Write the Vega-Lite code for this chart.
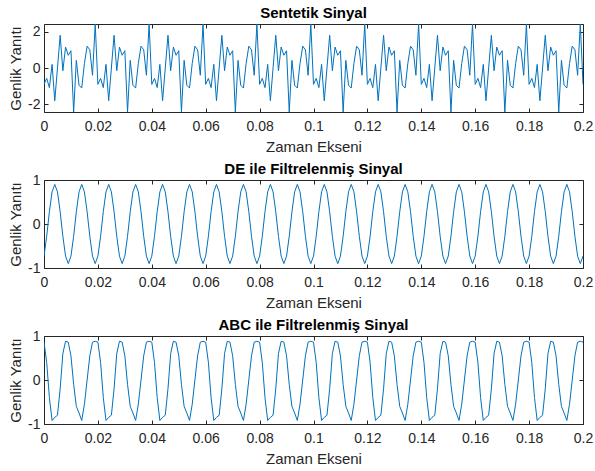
{
  "$schema": "https://vega.github.io/schema/vega-lite/v6.json",
  "background": "white",
  "padding": {"left": 8, "top": 5, "right": 10, "bottom": 6},
  "config": {
    "font": "Liberation Sans",
    "view": {"stroke": "#262626", "strokeWidth": 1},
    "axis": {"domain": false, "grid": false, "ticks": true, "tickSize": -4, "tickColor": "#262626", "tickWidth": 1,
             "labelColor": "#262626", "labelFontSize": 14, "labelFont": "Liberation Sans",
             "titleFont": "Liberation Sans", "titleFontSize": 15, "titleFontWeight": "normal", "titleColor": "#262626"},
    "axisX": {"labelPadding": 11, "titlePadding": 6, "labelFlush": false},
    "axisY": {"labelPadding": 8, "titlePadding": 4},
    "axisTop": {"labelPadding": 0, "minExtent": 0, "maxExtent": 0},
    "axisRight": {"labelPadding": 0, "minExtent": 0, "maxExtent": 0},
    "title": {"fontSize": 15, "fontWeight": "bold", "color": "#000000", "offset": 3, "font": "Liberation Sans"}
  },
  "data": {"values": [
    {"t":0,"sig":-0.9,"de":-0.73,"abc":0.86},{"t":0.001,"sig":-0.57,"de":-0.28,"abc":0.4},{"t":0.002,"sig":-1.08,"de":0.28,"abc":-0.4},{"t":0.003,"sig":0.2,"de":0.73,"abc":-0.92},{"t":0.004,"sig":-1.8,"de":0.9,"abc":-0.85},
    {"t":0.005,"sig":0,"de":0.73,"abc":-0.8},{"t":0.006,"sig":1.8,"de":0.28,"abc":-0.2},{"t":0.007,"sig":-0.15,"de":-0.28,"abc":0.6},{"t":0.008,"sig":1.15,"de":-0.73,"abc":0.88},{"t":0.009,"sig":0.7,"de":-0.9,"abc":0.86},
    {"t":0.01,"sig":0.95,"de":-0.73,"abc":0.55},{"t":0.011,"sig":-2.42,"de":-0.28,"abc":-0.1},{"t":0.012,"sig":0.42,"de":0.28,"abc":-0.6},{"t":0.013,"sig":-0.95,"de":0.73,"abc":-0.75},{"t":0.014,"sig":-1.1,"de":0.9,"abc":-0.92},
    {"t":0.015,"sig":0.25,"de":0.73,"abc":-0.55},{"t":0.016,"sig":1.2,"de":0.28,"abc":0},{"t":0.017,"sig":1.0,"de":-0.28,"abc":0.55},{"t":0.018,"sig":-0.4,"de":-0.73,"abc":0.86},{"t":0.019,"sig":2.42,"de":-0.9,"abc":0.88},
    {"t":0.02,"sig":-0.9,"de":-0.73,"abc":0.86},{"t":0.021,"sig":-0.57,"de":-0.28,"abc":0.4},{"t":0.022,"sig":-1.08,"de":0.28,"abc":-0.4},{"t":0.023,"sig":0.2,"de":0.73,"abc":-0.92},{"t":0.024,"sig":-1.8,"de":0.9,"abc":-0.85},
    {"t":0.025,"sig":0,"de":0.73,"abc":-0.8},{"t":0.026,"sig":1.8,"de":0.28,"abc":-0.2},{"t":0.027,"sig":-0.15,"de":-0.28,"abc":0.6},{"t":0.028,"sig":1.15,"de":-0.73,"abc":0.88},{"t":0.029,"sig":0.7,"de":-0.9,"abc":0.86},
    {"t":0.03,"sig":0.95,"de":-0.73,"abc":0.55},{"t":0.031,"sig":-2.42,"de":-0.28,"abc":-0.1},{"t":0.032,"sig":0.42,"de":0.28,"abc":-0.6},{"t":0.033,"sig":-0.95,"de":0.73,"abc":-0.75},{"t":0.034,"sig":-1.1,"de":0.9,"abc":-0.92},
    {"t":0.035,"sig":0.25,"de":0.73,"abc":-0.55},{"t":0.036,"sig":1.2,"de":0.28,"abc":0},{"t":0.037,"sig":1.0,"de":-0.28,"abc":0.55},{"t":0.038,"sig":-0.4,"de":-0.73,"abc":0.86},{"t":0.039,"sig":2.42,"de":-0.9,"abc":0.88},
    {"t":0.04,"sig":-0.9,"de":-0.73,"abc":0.86},{"t":0.041,"sig":-0.57,"de":-0.28,"abc":0.4},{"t":0.042,"sig":-1.08,"de":0.28,"abc":-0.4},{"t":0.043,"sig":0.2,"de":0.73,"abc":-0.92},{"t":0.044,"sig":-1.8,"de":0.9,"abc":-0.85},
    {"t":0.045,"sig":0,"de":0.73,"abc":-0.8},{"t":0.046,"sig":1.8,"de":0.28,"abc":-0.2},{"t":0.047,"sig":-0.15,"de":-0.28,"abc":0.6},{"t":0.048,"sig":1.15,"de":-0.73,"abc":0.88},{"t":0.049,"sig":0.7,"de":-0.9,"abc":0.86},
    {"t":0.05,"sig":0.95,"de":-0.73,"abc":0.55},{"t":0.051,"sig":-2.42,"de":-0.28,"abc":-0.1},{"t":0.052,"sig":0.42,"de":0.28,"abc":-0.6},{"t":0.053,"sig":-0.95,"de":0.73,"abc":-0.75},{"t":0.054,"sig":-1.1,"de":0.9,"abc":-0.92},
    {"t":0.055,"sig":0.25,"de":0.73,"abc":-0.55},{"t":0.056,"sig":1.2,"de":0.28,"abc":0},{"t":0.057,"sig":1.0,"de":-0.28,"abc":0.55},{"t":0.058,"sig":-0.4,"de":-0.73,"abc":0.86},{"t":0.059,"sig":2.42,"de":-0.9,"abc":0.88},
    {"t":0.06,"sig":-0.9,"de":-0.73,"abc":0.86},{"t":0.061,"sig":-0.57,"de":-0.28,"abc":0.4},{"t":0.062,"sig":-1.08,"de":0.28,"abc":-0.4},{"t":0.063,"sig":0.2,"de":0.73,"abc":-0.92},{"t":0.064,"sig":-1.8,"de":0.9,"abc":-0.85},
    {"t":0.065,"sig":0,"de":0.73,"abc":-0.8},{"t":0.066,"sig":1.8,"de":0.28,"abc":-0.2},{"t":0.067,"sig":-0.15,"de":-0.28,"abc":0.6},{"t":0.068,"sig":1.15,"de":-0.73,"abc":0.88},{"t":0.069,"sig":0.7,"de":-0.9,"abc":0.86},
    {"t":0.07,"sig":0.95,"de":-0.73,"abc":0.55},{"t":0.071,"sig":-2.42,"de":-0.28,"abc":-0.1},{"t":0.072,"sig":0.42,"de":0.28,"abc":-0.6},{"t":0.073,"sig":-0.95,"de":0.73,"abc":-0.75},{"t":0.074,"sig":-1.1,"de":0.9,"abc":-0.92},
    {"t":0.075,"sig":0.25,"de":0.73,"abc":-0.55},{"t":0.076,"sig":1.2,"de":0.28,"abc":0},{"t":0.077,"sig":1.0,"de":-0.28,"abc":0.55},{"t":0.078,"sig":-0.4,"de":-0.73,"abc":0.86},{"t":0.079,"sig":2.42,"de":-0.9,"abc":0.88},
    {"t":0.08,"sig":-0.9,"de":-0.73,"abc":0.86},{"t":0.081,"sig":-0.57,"de":-0.28,"abc":0.4},{"t":0.082,"sig":-1.08,"de":0.28,"abc":-0.4},{"t":0.083,"sig":0.2,"de":0.73,"abc":-0.92},{"t":0.084,"sig":-1.8,"de":0.9,"abc":-0.85},
    {"t":0.085,"sig":0,"de":0.73,"abc":-0.8},{"t":0.086,"sig":1.8,"de":0.28,"abc":-0.2},{"t":0.087,"sig":-0.15,"de":-0.28,"abc":0.6},{"t":0.088,"sig":1.15,"de":-0.73,"abc":0.88},{"t":0.089,"sig":0.7,"de":-0.9,"abc":0.86},
    {"t":0.09,"sig":0.95,"de":-0.73,"abc":0.55},{"t":0.091,"sig":-2.42,"de":-0.28,"abc":-0.1},{"t":0.092,"sig":0.42,"de":0.28,"abc":-0.6},{"t":0.093,"sig":-0.95,"de":0.73,"abc":-0.75},{"t":0.094,"sig":-1.1,"de":0.9,"abc":-0.92},
    {"t":0.095,"sig":0.25,"de":0.73,"abc":-0.55},{"t":0.096,"sig":1.2,"de":0.28,"abc":0},{"t":0.097,"sig":1.0,"de":-0.28,"abc":0.55},{"t":0.098,"sig":-0.4,"de":-0.73,"abc":0.86},{"t":0.099,"sig":2.42,"de":-0.9,"abc":0.88},
    {"t":0.1,"sig":-0.9,"de":-0.73,"abc":0.86},{"t":0.101,"sig":-0.57,"de":-0.28,"abc":0.4},{"t":0.102,"sig":-1.08,"de":0.28,"abc":-0.4},{"t":0.103,"sig":0.2,"de":0.73,"abc":-0.92},{"t":0.104,"sig":-1.8,"de":0.9,"abc":-0.85},
    {"t":0.105,"sig":0,"de":0.73,"abc":-0.8},{"t":0.106,"sig":1.8,"de":0.28,"abc":-0.2},{"t":0.107,"sig":-0.15,"de":-0.28,"abc":0.6},{"t":0.108,"sig":1.15,"de":-0.73,"abc":0.88},{"t":0.109,"sig":0.7,"de":-0.9,"abc":0.86},
    {"t":0.11,"sig":0.95,"de":-0.73,"abc":0.55},{"t":0.111,"sig":-2.42,"de":-0.28,"abc":-0.1},{"t":0.112,"sig":0.42,"de":0.28,"abc":-0.6},{"t":0.113,"sig":-0.95,"de":0.73,"abc":-0.75},{"t":0.114,"sig":-1.1,"de":0.9,"abc":-0.92},
    {"t":0.115,"sig":0.25,"de":0.73,"abc":-0.55},{"t":0.116,"sig":1.2,"de":0.28,"abc":0},{"t":0.117,"sig":1.0,"de":-0.28,"abc":0.55},{"t":0.118,"sig":-0.4,"de":-0.73,"abc":0.86},{"t":0.119,"sig":2.42,"de":-0.9,"abc":0.88},
    {"t":0.12,"sig":-0.9,"de":-0.73,"abc":0.86},{"t":0.121,"sig":-0.57,"de":-0.28,"abc":0.4},{"t":0.122,"sig":-1.08,"de":0.28,"abc":-0.4},{"t":0.123,"sig":0.2,"de":0.73,"abc":-0.92},{"t":0.124,"sig":-1.8,"de":0.9,"abc":-0.85},
    {"t":0.125,"sig":0,"de":0.73,"abc":-0.8},{"t":0.126,"sig":1.8,"de":0.28,"abc":-0.2},{"t":0.127,"sig":-0.15,"de":-0.28,"abc":0.6},{"t":0.128,"sig":1.15,"de":-0.73,"abc":0.88},{"t":0.129,"sig":0.7,"de":-0.9,"abc":0.86},
    {"t":0.13,"sig":0.95,"de":-0.73,"abc":0.55},{"t":0.131,"sig":-2.42,"de":-0.28,"abc":-0.1},{"t":0.132,"sig":0.42,"de":0.28,"abc":-0.6},{"t":0.133,"sig":-0.95,"de":0.73,"abc":-0.75},{"t":0.134,"sig":-1.1,"de":0.9,"abc":-0.92},
    {"t":0.135,"sig":0.25,"de":0.73,"abc":-0.55},{"t":0.136,"sig":1.2,"de":0.28,"abc":0},{"t":0.137,"sig":1.0,"de":-0.28,"abc":0.55},{"t":0.138,"sig":-0.4,"de":-0.73,"abc":0.86},{"t":0.139,"sig":2.42,"de":-0.9,"abc":0.88},
    {"t":0.14,"sig":-0.9,"de":-0.73,"abc":0.86},{"t":0.141,"sig":-0.57,"de":-0.28,"abc":0.4},{"t":0.142,"sig":-1.08,"de":0.28,"abc":-0.4},{"t":0.143,"sig":0.2,"de":0.73,"abc":-0.92},{"t":0.144,"sig":-1.8,"de":0.9,"abc":-0.85},
    {"t":0.145,"sig":0,"de":0.73,"abc":-0.8},{"t":0.146,"sig":1.8,"de":0.28,"abc":-0.2},{"t":0.147,"sig":-0.15,"de":-0.28,"abc":0.6},{"t":0.148,"sig":1.15,"de":-0.73,"abc":0.88},{"t":0.149,"sig":0.7,"de":-0.9,"abc":0.86},
    {"t":0.15,"sig":0.95,"de":-0.73,"abc":0.55},{"t":0.151,"sig":-2.42,"de":-0.28,"abc":-0.1},{"t":0.152,"sig":0.42,"de":0.28,"abc":-0.6},{"t":0.153,"sig":-0.95,"de":0.73,"abc":-0.75},{"t":0.154,"sig":-1.1,"de":0.9,"abc":-0.92},
    {"t":0.155,"sig":0.25,"de":0.73,"abc":-0.55},{"t":0.156,"sig":1.2,"de":0.28,"abc":0},{"t":0.157,"sig":1.0,"de":-0.28,"abc":0.55},{"t":0.158,"sig":-0.4,"de":-0.73,"abc":0.86},{"t":0.159,"sig":2.42,"de":-0.9,"abc":0.88},
    {"t":0.16,"sig":-0.9,"de":-0.73,"abc":0.86},{"t":0.161,"sig":-0.57,"de":-0.28,"abc":0.4},{"t":0.162,"sig":-1.08,"de":0.28,"abc":-0.4},{"t":0.163,"sig":0.2,"de":0.73,"abc":-0.92},{"t":0.164,"sig":-1.8,"de":0.9,"abc":-0.85},
    {"t":0.165,"sig":0,"de":0.73,"abc":-0.8},{"t":0.166,"sig":1.8,"de":0.28,"abc":-0.2},{"t":0.167,"sig":-0.15,"de":-0.28,"abc":0.6},{"t":0.168,"sig":1.15,"de":-0.73,"abc":0.88},{"t":0.169,"sig":0.7,"de":-0.9,"abc":0.86},
    {"t":0.17,"sig":0.95,"de":-0.73,"abc":0.55},{"t":0.171,"sig":-2.42,"de":-0.28,"abc":-0.1},{"t":0.172,"sig":0.42,"de":0.28,"abc":-0.6},{"t":0.173,"sig":-0.95,"de":0.73,"abc":-0.75},{"t":0.174,"sig":-1.1,"de":0.9,"abc":-0.92},
    {"t":0.175,"sig":0.25,"de":0.73,"abc":-0.55},{"t":0.176,"sig":1.2,"de":0.28,"abc":0},{"t":0.177,"sig":1.0,"de":-0.28,"abc":0.55},{"t":0.178,"sig":-0.4,"de":-0.73,"abc":0.86},{"t":0.179,"sig":2.42,"de":-0.9,"abc":0.88},
    {"t":0.18,"sig":-0.9,"de":-0.73,"abc":0.86},{"t":0.181,"sig":-0.57,"de":-0.28,"abc":0.4},{"t":0.182,"sig":-1.08,"de":0.28,"abc":-0.4},{"t":0.183,"sig":0.2,"de":0.73,"abc":-0.92},{"t":0.184,"sig":-1.8,"de":0.9,"abc":-0.85},
    {"t":0.185,"sig":0,"de":0.73,"abc":-0.8},{"t":0.186,"sig":1.8,"de":0.28,"abc":-0.2},{"t":0.187,"sig":-0.15,"de":-0.28,"abc":0.6},{"t":0.188,"sig":1.15,"de":-0.73,"abc":0.88},{"t":0.189,"sig":0.7,"de":-0.9,"abc":0.86},
    {"t":0.19,"sig":0.95,"de":-0.73,"abc":0.55},{"t":0.191,"sig":-2.42,"de":-0.28,"abc":-0.1},{"t":0.192,"sig":0.42,"de":0.28,"abc":-0.6},{"t":0.193,"sig":-0.95,"de":0.73,"abc":-0.75},{"t":0.194,"sig":-1.1,"de":0.9,"abc":-0.92},
    {"t":0.195,"sig":0.25,"de":0.73,"abc":-0.55},{"t":0.196,"sig":1.2,"de":0.28,"abc":0},{"t":0.197,"sig":1.0,"de":-0.28,"abc":0.55},{"t":0.198,"sig":-0.4,"de":-0.73,"abc":0.86},{"t":0.199,"sig":2.42,"de":-0.9,"abc":0.88},
    {"t":0.2,"sig":-0.9,"de":-0.73,"abc":0.86}
  ]},
  "spacing": 68,
  "bounds": "flush",
  "vconcat": [
    {
      "title": {"text": "Sentetik Sinyal"},
      "width": 539, "height": 88,
      "layer": [
        {"mark": {"type": "line", "color": "#0072BD", "strokeWidth": 1, "clip": true},
         "encoding": {
           "x": {"field": "t", "type": "quantitative", "scale": {"domain": [0, 0.2], "nice": false, "zero": false},
                 "axis": {"orient": "bottom", "values": [0,0.02,0.04,0.06,0.08,0.1,0.12,0.14,0.16,0.18,0.2], "labelExpr": "'' + datum.value", "title": "Zaman Ekseni"}},
           "y": {"field": "sig", "type": "quantitative", "scale": {"domain": [-2.42, 2.42], "nice": false, "zero": false},
                 "axis": {"orient": "left", "values": [-2, 0, 2], "labelExpr": "'' + datum.value", "title": "Genlik Yanıtı"}}}},
        {"mark": {"type": "line", "opacity": 0, "clip": true},
         "encoding": {
           "x": {"field": "t", "type": "quantitative", "axis": {"orient": "top", "values": [0,0.02,0.04,0.06,0.08,0.1,0.12,0.14,0.16,0.18,0.2], "labels": false, "title": null}},
           "y": {"field": "sig", "type": "quantitative", "axis": {"orient": "right", "values": [-2, 0, 2], "labels": false, "title": null}}}}
      ],
      "resolve": {"axis": {"x": "independent", "y": "independent"}}
    },
    {
      "title": {"text": "DE ile Filtrelenmiş Sinyal", "offset": -4},
      "width": 539, "height": 88,
      "layer": [
        {"mark": {"type": "line", "color": "#0072BD", "strokeWidth": 1, "clip": true},
         "encoding": {
           "x": {"field": "t", "type": "quantitative", "scale": {"domain": [0, 0.2], "nice": false, "zero": false},
                 "axis": {"orient": "bottom", "values": [0,0.02,0.04,0.06,0.08,0.1,0.12,0.14,0.16,0.18,0.2], "labelExpr": "'' + datum.value", "title": "Zaman Ekseni"}},
           "y": {"field": "de", "type": "quantitative", "scale": {"domain": [-1, 1], "nice": false, "zero": false},
                 "axis": {"orient": "left", "values": [-1, 0, 1], "labelExpr": "'' + datum.value", "title": "Genlik Yanıtı"}}}},
        {"mark": {"type": "line", "opacity": 0, "clip": true},
         "encoding": {
           "x": {"field": "t", "type": "quantitative", "axis": {"orient": "top", "values": [0,0.02,0.04,0.06,0.08,0.1,0.12,0.14,0.16,0.18,0.2], "labels": false, "title": null}},
           "y": {"field": "de", "type": "quantitative", "axis": {"orient": "right", "values": [-1, 0, 1], "labels": false, "title": null}}}}
      ],
      "resolve": {"axis": {"x": "independent", "y": "independent"}}
    },
    {
      "title": {"text": "ABC ile Filtrelenmiş Sinyal", "offset": -4},
      "width": 539, "height": 88,
      "layer": [
        {"mark": {"type": "line", "color": "#0072BD", "strokeWidth": 1, "clip": true},
         "encoding": {
           "x": {"field": "t", "type": "quantitative", "scale": {"domain": [0, 0.2], "nice": false, "zero": false},
                 "axis": {"orient": "bottom", "values": [0,0.02,0.04,0.06,0.08,0.1,0.12,0.14,0.16,0.18,0.2], "labelExpr": "'' + datum.value", "title": "Zaman Ekseni"}},
           "y": {"field": "abc", "type": "quantitative", "scale": {"domain": [-1, 1], "nice": false, "zero": false},
                 "axis": {"orient": "left", "values": [-1, 0, 1], "labelExpr": "'' + datum.value", "title": "Genlik Yanıtı"}}}},
        {"mark": {"type": "line", "opacity": 0, "clip": true},
         "encoding": {
           "x": {"field": "t", "type": "quantitative", "axis": {"orient": "top", "values": [0,0.02,0.04,0.06,0.08,0.1,0.12,0.14,0.16,0.18,0.2], "labels": false, "title": null}},
           "y": {"field": "abc", "type": "quantitative", "axis": {"orient": "right", "values": [-1, 0, 1], "labels": false, "title": null}}}}
      ],
      "resolve": {"axis": {"x": "independent", "y": "independent"}}
    }
  ]
}
